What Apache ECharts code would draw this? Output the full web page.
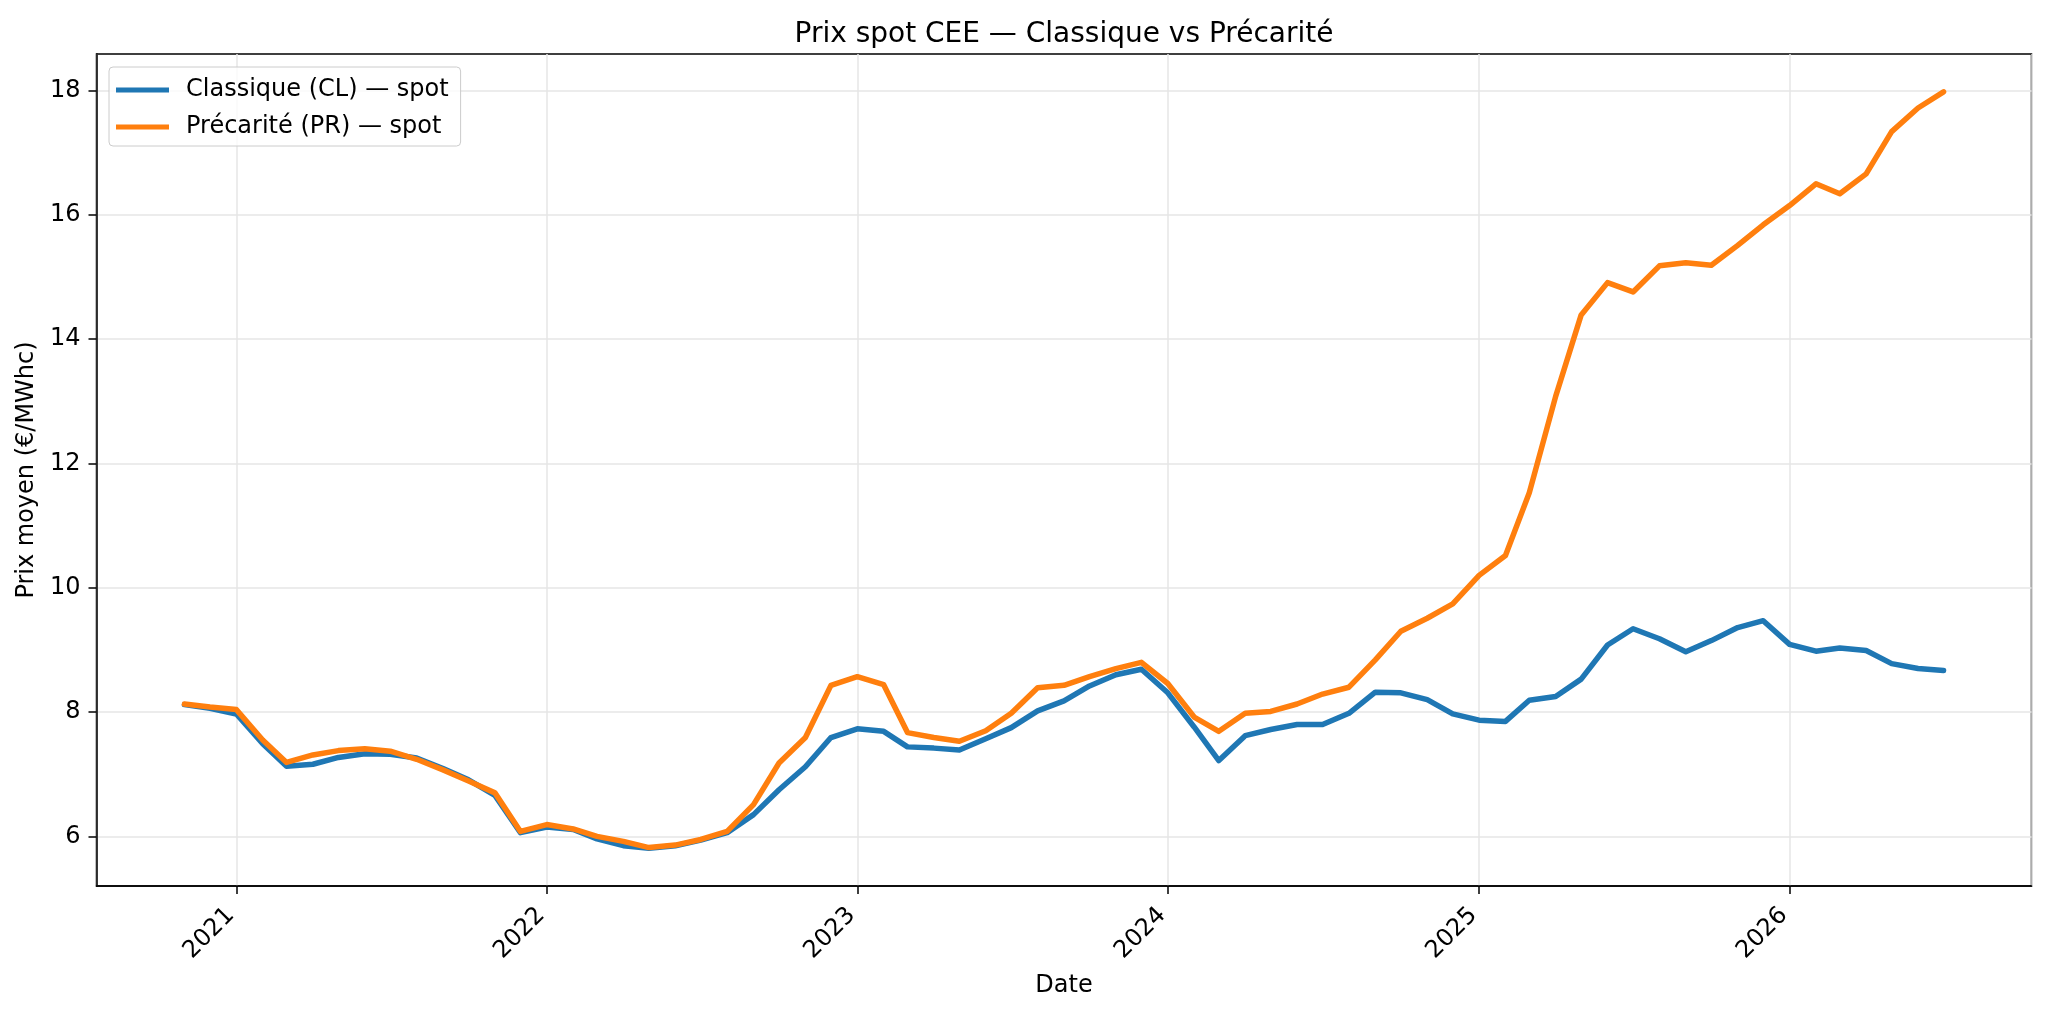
<!DOCTYPE html>
<html>
<head>
<meta charset="utf-8">
<title>Prix spot CEE</title>
<script src="https://cdn.jsdelivr.net/npm/echarts@6/dist/echarts.min.js"></script>
<style>
  html, body { margin: 0; padding: 0; background: #fff; }
  #chart { width: 2048px; height: 1012px; }
</style>
</head>
<body>
<div id="chart"></div>
<script>
// mois (1er du mois), nov. 2020 -> juil. 2026
var months = [
  '2020-11', '2020-12',
  '2021-01', '2021-02', '2021-03', '2021-04', '2021-05', '2021-06', '2021-07', '2021-08', '2021-09', '2021-10', '2021-11', '2021-12',
  '2022-01', '2022-02', '2022-03', '2022-04', '2022-05', '2022-06', '2022-07', '2022-08', '2022-09', '2022-10', '2022-11', '2022-12',
  '2023-01', '2023-02', '2023-03', '2023-04', '2023-05', '2023-06', '2023-07', '2023-08', '2023-09', '2023-10', '2023-11', '2023-12',
  '2024-01', '2024-02', '2024-03', '2024-04', '2024-05', '2024-06', '2024-07', '2024-08', '2024-09', '2024-10', '2024-11', '2024-12',
  '2025-01', '2025-02', '2025-03', '2025-04', '2025-05', '2025-06', '2025-07', '2025-08', '2025-09', '2025-10', '2025-11', '2025-12',
  '2026-01', '2026-02', '2026-03', '2026-04', '2026-05', '2026-06', '2026-07'
];

// Classique (CL) — spot
var classique = [
  8.12, 8.06,
  7.97, 7.49, 7.13, 7.16, 7.27, 7.33, 7.32, 7.26, 7.09, 6.91, 6.66, 6.06,
  6.15, 6.11, 5.96, 5.85, 5.81, 5.85, 5.94, 6.06, 6.35, 6.75, 7.12, 7.59,
  7.73, 7.69, 7.44, 7.42, 7.39, 7.57, 7.75, 8.02, 8.18, 8.42, 8.60, 8.69,
  8.31, 7.76, 7.22, 7.62, 7.72, 7.80, 7.80, 7.98, 8.32, 8.31, 8.20, 7.97,
  7.87, 7.85, 8.19, 8.25, 8.53, 9.08, 9.34, 9.18, 8.97, 9.15, 9.36, 9.47,
  9.09, 8.98, 9.03, 8.99, 8.78, 8.70, 8.67
];

// Précarité (PR) — spot
var precarite = [
  8.13, 8.08,
  8.04, 7.55, 7.19, 7.31, 7.38, 7.41, 7.37, 7.24, 7.07, 6.89, 6.70, 6.08,
  6.19, 6.12, 6.00, 5.92, 5.82, 5.86, 5.95, 6.08, 6.51, 7.18, 7.59, 8.43,
  8.57, 8.44, 7.67, 7.59, 7.53, 7.70, 7.98, 8.39, 8.43, 8.57, 8.70, 8.80,
  8.46, 7.92, 7.69, 7.98, 8.01, 8.13, 8.29, 8.40, 8.84, 9.30, 9.51, 9.74,
  10.20, 10.52, 11.53, 13.08, 14.39, 14.91, 14.76, 15.18, 15.23, 15.19, 15.51, 15.84,
  16.15, 16.50, 16.34, 16.66, 17.34, 17.72, 17.98
];

var yTicks = [6, 8, 10, 12, 14, 16, 18];

function toTime(m) {
  var p = m.split('-');
  return Date.UTC(+p[0], +p[1] - 1, 1);
}

function pairs(values) {
  return months.map(function(m, i) {
    return [toTime(m), values[i]];
  });
}

// marges de 5% comme matplotlib
function padMin(v) { return v.min - 0.05 * (v.max - v.min); }
function padMax(v) { return v.max + 0.05 * (v.max - v.min); }

var FONT = 'DejaVu Sans';
var chart = echarts.init(document.getElementById('chart'), null, { renderer: 'canvas' });

var option = {
  animation: false,
  useUTC: true,
  backgroundColor: '#fff',
  textStyle: { fontFamily: FONT, color: '#000' },
  title: {
    text: 'Prix spot CEE — Classique vs Précarité',
    left: 1064,
    textAlign: 'center',
    top: 21,
    padding: 0,
    textStyle: { fontFamily: FONT, fontSize: 28, fontWeight: 'normal', color: '#000' }
  },
  legend: {
    orient: 'vertical',
    left: 109,
    top: 67,
    padding: [11, 12, 7, 7],
    itemGap: 13,
    itemWidth: 53,
    itemHeight: 5,
    icon: 'rect',
    backgroundColor: 'rgba(255,255,255,0.8)',
    borderColor: '#cccccc',
    borderWidth: 1,
    borderRadius: 4,
    textStyle: { fontFamily: FONT, fontSize: 24, color: '#000', lineHeight: 24, padding: [0, 0, 0, 12] },
    data: ['Classique (CL) — spot', 'Précarité (PR) — spot']
  },
  grid: {
    left: 96.5,
    right: 16.5,
    top: 54,
    bottom: 126,
    containLabel: false,
    outerBoundsMode: 'none',
    show: true,
    borderColor: '#000',
    borderWidth: 1.5
  },
  xAxis: {
    type: 'time',
    min: padMin,
    max: padMax,
    splitNumber: 6,
    minInterval: 365.25 * 24 * 3600 * 1000,
    maxInterval: 365.25 * 24 * 3600 * 1000,
    name: 'Date',
    nameLocation: 'middle',
    nameGap: 88,
    nameTextStyle: { fontFamily: FONT, fontSize: 24, color: '#000' },
    axisLine: { show: true, onZero: false, lineStyle: { color: '#000', width: 1.5 } },
    axisTick: { show: true, length: 8, lineStyle: { color: '#000', width: 1.5 } },
    axisLabel: {
      formatter: '{yyyy}',
      rotate: 45,
      margin: 20,
      padding: [0, 8, 0, 0],
      fontFamily: FONT,
      fontSize: 24,
      color: '#000',
      hideOverlap: false
    },
    splitLine: { show: true, lineStyle: { color: '#e6e6e6', width: 1.5 } }
  },
  yAxis: {
    type: 'value',
    min: padMin,
    max: padMax,
    splitNumber: 7,
    name: 'Prix moyen (€/MWhc)',
    nameLocation: 'middle',
    nameGap: 56,
    nameTextStyle: { fontFamily: FONT, fontSize: 24, color: '#000' },
    axisLine: { show: true, lineStyle: { color: '#000', width: 1.5 } },
    axisTick: { show: true, length: 8, customValues: yTicks, lineStyle: { color: '#000', width: 1.5 } },
    axisLabel: {
      customValues: yTicks,
      margin: 16,
      fontFamily: FONT,
      fontSize: 24,
      color: '#000'
    },
    splitLine: { show: true, lineStyle: { color: '#e6e6e6', width: 1.5 } }
  },
  series: [
    {
      name: 'Classique (CL) — spot',
      type: 'line',
      data: pairs(classique),
      showSymbol: false,
      symbol: 'none',
      color: '#1f77b4',
      lineStyle: { color: '#1f77b4', width: 5.5, join: 'round', cap: 'round' }
    },
    {
      name: 'Précarité (PR) — spot',
      type: 'line',
      data: pairs(precarite),
      showSymbol: false,
      symbol: 'none',
      color: '#ff7f0e',
      lineStyle: { color: '#ff7f0e', width: 5.5, join: 'round', cap: 'round' }
    }
  ]
};

chart.setOption(option);
</script>
</body>
</html>
